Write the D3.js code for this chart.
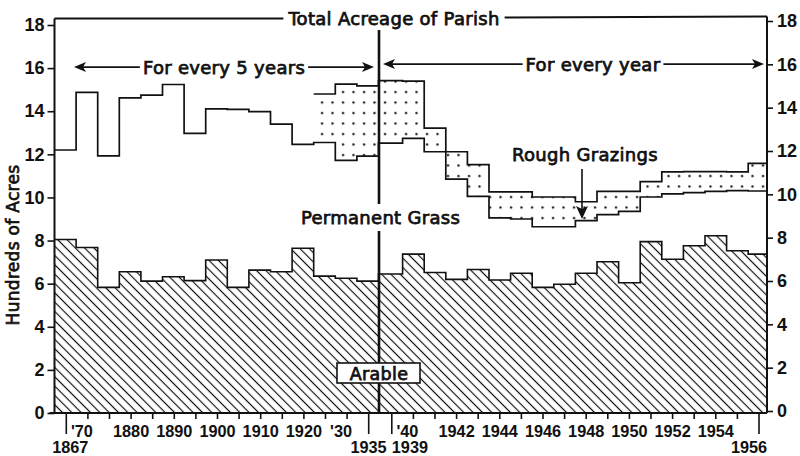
<!DOCTYPE html>
<html><head><meta charset="utf-8">
<script src="https://cdn.jsdelivr.net/npm/d3@7/dist/d3.min.js"></script>
<style>body{margin:0;background:#fff}svg{display:block}</style>
</head><body><svg id="c" width="800" height="456"></svg>
<script>
// ---------- DATA (hundreds of acres) ----------
const periodsLeft = ["1867","1870","1875","1880","1885","1890","1895","1900","1905","1910","1915","1920","1925","1930","1935"];
const arableLeft   = [8.05,7.68,5.83,6.55,6.12,6.32,6.14,7.10,5.83,6.63,6.55,7.64,6.35,6.25,6.12];
const grassTopLeft = [12.2,14.87,11.93,14.62,14.75,15.24,12.97,14.11,14.09,13.98,13.4,12.46,12.55,11.72,11.92];
const roughTopLeft = [null,null,null,null,null,null,null,null,null,null,null,null,14.8,15.26,15.18];

const yearsRight    = ["1939","1940","1941","1942","1943","1944","1945","1946","1947","1948","1949","1950","1951","1952","1953","1954","1955","1956"];
const arableRight   = [6.45,7.37,6.52,6.2,6.66,6.17,6.48,5.83,5.97,6.48,7.02,6.04,7.95,7.13,7.76,8.22,7.53,7.37];
const grassTopRight = [12.52,12.74,12.12,10.85,10.05,9.05,9.0,8.64,8.64,8.92,9.2,9.35,10.02,10.17,10.22,10.28,10.32,10.3];
const roughTopRight = [15.42,15.4,13.22,12.12,11.52,10.26,10.26,10.02,10.02,9.8,10.28,10.28,10.73,11.19,11.2,11.2,11.19,11.58];

const yTicks = [0,2,4,6,8,10,12,14,16,18];
const xLabelsRow1 = {"1870":"'70","1880":"1880","1890":"1890","1900":"1900","1910":"1910","1920":"1920","1930":"'30",
  "1940":"'40","1942":"1942","1944":"1944","1946":"1946","1948":"1948","1950":"1950","1952":"1952","1954":"1954"};
const xLabelsRow2 = ["1867","1935","1939","1956"];
const totalAcreage = 18.3;

// ---------- LAYOUT ----------
const svg = d3.select("#c");
const WORD = "'DejaVu Sans', sans-serif";
const NUM = "'Liberation Sans', Arial, sans-serif";
const y  = d3.scaleLinear().domain([0,18]).range([413,25]);
const yR = d3.scaleLinear().domain([0,18]).range([411,21]);
const xL = d3.scaleBand().domain(periodsLeft).range([54.5,378.5]);
const xR = d3.scaleBand().domain(yearsRight).range([381,769.8]);
const plotLeft = xL.range()[0], plotRight = 767, xDiv = xL.range()[1];
const bwL = xL.bandwidth(), bwR = xR.bandwidth();

const items = [
  ...periodsLeft.map((k,i)=>({k, x0:xL(k), x1:xL(k)+bwL, cx:xL(k)+bwL/2+1,
      a:arableLeft[i], g:grassTopLeft[i], r:roughTopLeft[i]})),
  ...yearsRight.map((k,i)=>({k, x0:i===0?xDiv:xR(k), x1:Math.min(xR(k)+bwR,plotRight), cx:xR(k)+bwR/2,
      a:arableRight[i], g:grassTopRight[i], r:roughTopRight[i]}))
];
const stepPts = (arr,f)=>arr.flatMap(d=>[[d.x0,f(d)],[d.x1,f(d)]]);
const line = d3.line().x(p=>p[0]).y(p=>y(p[1]));

// patterns
const defs = svg.append("defs");
const hp = defs.append("pattern").attr("id","hatch").attr("patternUnits","userSpaceOnUse")
  .attr("width",6.6).attr("height",6.6).attr("patternTransform","rotate(-45)");
hp.append("line").attr("x1",3.3).attr("x2",3.3).attr("y1",-1).attr("y2",8).attr("stroke","#111").attr("stroke-width",1.2);
const sp = defs.append("pattern").attr("id","stipple").attr("patternUnits","userSpaceOnUse")
  .attr("width",10.5).attr("height",10.5).attr("x",2).attr("y",3);
sp.append("circle").attr("cx",5).attr("cy",5).attr("r",1.15).attr("fill","#111");

// areas
svg.append("path").attr("d", d3.area().x(p=>p[0]).y0(y(0)).y1(p=>y(p[1]))(stepPts(items,d=>d.a)))
  .attr("fill","url(#hatch)");
const rItems = items.filter(d=>d.r!=null);
const rPts = rItems.flatMap(d=>[[d.x0,d.g,d.r],[d.x1,d.g,d.r]]);
svg.append("path").attr("d", d3.area().x(p=>p[0]).y0(p=>y(p[1])).y1(p=>y(p[2]))(rPts))
  .attr("fill","url(#stipple)");

// lines
const ln = (pts,w)=>svg.append("path").attr("d",line(pts)).attr("fill","none").attr("stroke","#111")
  .attr("stroke-width",w).attr("stroke-linejoin","miter");
ln(stepPts(items,d=>d.a),1.6);
ln(stepPts(items,d=>d.g),1.7);
ln(stepPts(rItems,d=>d.r),1.7);

// axes
const axL = svg.append("g").attr("transform",`translate(${plotLeft},0)`)
  .call(d3.axisLeft(y).tickValues(yTicks).tickSize(7).tickPadding(3).tickSizeOuter(0));
const axR = svg.append("g").attr("transform",`translate(${plotRight},0)`)
  .call(d3.axisRight(yR).tickValues(yTicks).tickSize(6).tickPadding(4).tickSizeOuter(0));
[axL,axR].forEach(g=>{
  g.select(".domain").remove();
  g.selectAll(".tick line").attr("stroke","#111").attr("stroke-width",1.6);
  g.selectAll(".tick text").attr("font-family",NUM).attr("font-weight","bold").attr("font-size",18).attr("fill","#111");
});
const yTop = y(totalAcreage);
svg.append("line").attr("x1",plotLeft).attr("x2",plotLeft).attr("y1",yTop).attr("y2",y(0)+1).attr("stroke","#111").attr("stroke-width",2);
svg.append("line").attr("x1",plotRight).attr("x2",plotRight).attr("y1",yTop-2).attr("y2",y(0)).attr("stroke","#111").attr("stroke-width",2);
svg.append("line").attr("x1",plotLeft-5).attr("x2",plotRight).attr("y1",y(0)).attr("y2",y(0)).attr("stroke","#111").attr("stroke-width",2);

// bottom ticks
const row2 = {"1867":{anchor:"middle",dx:4},"1935":{anchor:"end",dx:18},"1939":{anchor:"start",dx:0},"1956":{anchor:"middle",dx:-10}};
items.forEach(d=>{
  const long = xLabelsRow2.includes(d.k);
  svg.append("line").attr("x1",d.cx).attr("x2",d.cx).attr("y1",y(0)).attr("y2",y(0)+(long?21:6))
    .attr("stroke","#111").attr("stroke-width",1.6);
  const t1 = xLabelsRow1[d.k];
  if (t1) svg.append("text").attr("x",d.cx+(t1[0]==="'"?-6:0)).attr("y",436.5).attr("text-anchor","middle")
    .attr("font-family",NUM).attr("font-weight","bold").attr("font-size",16.3).attr("fill","#111").text(t1);
  if (long) svg.append("text").attr("x",d.cx+row2[d.k].dx).attr("y",453).attr("text-anchor",row2[d.k].anchor)
    .attr("font-family",NUM).attr("font-weight","bold").attr("font-size",16.3).attr("fill","#111").text(d.k);
});

// divider
svg.append("line").attr("x1",xDiv+0.5).attr("x2",xDiv+0.5).attr("y1",30).attr("y2",y(0)).attr("stroke","#111").attr("stroke-width",2.6);

// text helper
function label(txt,x,yy,opt={}){
  return svg.append("text").attr("x",x).attr("y",yy).attr("text-anchor",opt.anchor||"middle")
    .attr("font-family",WORD).attr("font-size",opt.size||18).attr("letter-spacing",0.3).attr("fill","#111")
    .attr("stroke","#111").attr("stroke-width",0.75).text(txt);
}
// Total acreage line
const tt = label("Total Acreage of Parish",394,yTop+6.5);
const tw = tt.node().getComputedTextLength();
svg.append("line").attr("x1",plotLeft).attr("x2",394-tw/2-5).attr("y1",yTop).attr("y2",yTop).attr("stroke","#111").attr("stroke-width",2);
svg.append("line").attr("x1",394+tw/2+5).attr("x2",plotRight).attr("y1",yTop-1).attr("y2",yTop-2).attr("stroke","#111").attr("stroke-width",2);

// arrows
function arrow(txt,cx,yy,xa,xb){
  const t = label(txt,cx,yy+6.5);
  const w = t.node().getComputedTextLength();
  const g = svg.append("g").attr("stroke","#111").attr("stroke-width",1.6);
  g.append("line").attr("x1",xa+6).attr("x2",cx-w/2-3).attr("y1",yy).attr("y2",yy);
  g.append("line").attr("x1",cx+w/2+3).attr("x2",xb-6).attr("y1",yy).attr("y2",yy);
  svg.append("path").attr("d",`M${xa},${yy}L${xa+12},${yy-5}L${xa+9},${yy}L${xa+12},${yy+5}Z`).attr("fill","#111");
  svg.append("path").attr("d",`M${xb},${yy}L${xb-12},${yy-5}L${xb-9},${yy}L${xb-12},${yy+5}Z`).attr("fill","#111");
}
arrow("For every 5 years",224,y(16)-1,74,374);
arrow("For every year",593,y(16)-4,383,764);

// Permanent Grass
const pgw = 176;
svg.append("rect").attr("x",xDiv-pgw/2+2).attr("y",204).attr("width",pgw).attr("height",27).attr("fill","#fff");
label("Permanent Grass",xDiv+2,224);

// Rough Grazings
label("Rough Grazings",585,161);
svg.append("line").attr("x1",582).attr("x2",582).attr("y1",169).attr("y2",210).attr("stroke","#111").attr("stroke-width",1.6);
svg.append("path").attr("d","M582,219L576,206L582,209L588,206Z").attr("fill","#111");

// Arable box
svg.append("rect").attr("x",337).attr("y",363).attr("width",83).attr("height",20).attr("fill","#fff").attr("stroke","#111").attr("stroke-width",1.6);
label("Arable",379,379.5,{size:17.5});

// y title
svg.append("text").attr("transform","translate(19,245) rotate(-90)").attr("text-anchor","middle")
  .attr("font-family",WORD).attr("font-size",17).attr("letter-spacing",0.3).attr("fill","#111").attr("stroke","#111").attr("stroke-width",0.7)
  .text("Hundreds of Acres");
</script></body></html>
